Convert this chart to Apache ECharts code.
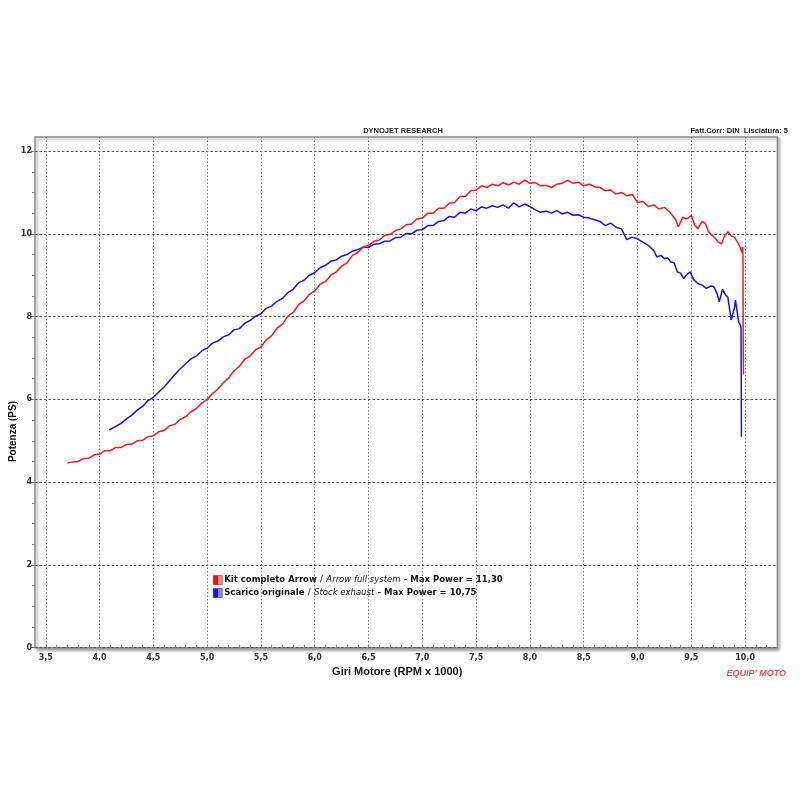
<!DOCTYPE html>
<html><head><meta charset="utf-8">
<script src="https://cdn.jsdelivr.net/npm/echarts@6/dist/echarts.min.js"></script>
<style>html,body{margin:0;padding:0;background:#fff}#c{width:800px;height:800px}</style>
</head><body><div id="c"></div>
<script>
// ---- data (RPM x 1000, PS) ----
const rpmTicks = [3.5,4.0,4.5,5.0,5.5,6.0,6.5,7.0,7.5,8.0,8.5,9.0,9.5,10.0];
const psTicks = [0,2,4,6,8,10,12];
const seriesNames = ['Kit completo Arrow', 'Scarico originale'];
const seriesNamesEn = ['Arrow full system', 'Stock exhaust'];
const headerTitle = 'DYNOJET RESEARCH';
const headerRight = 'Fatt.Corr: DIN  Lisciatura: 5';
const xTitle = 'Giri Motore (RPM x 1000)';
const yTitle = 'Potenza (PS)';

const kitArrow = [
[3.70,4.46],[3.75,4.49],[3.80,4.50],[3.85,4.57],[3.90,4.58],[3.95,4.66],[4.00,4.68],[4.05,4.76],[4.10,4.76],
[4.15,4.84],[4.20,4.84],[4.25,4.91],[4.30,4.92],[4.35,5.00],[4.40,5.01],[4.45,5.10],[4.50,5.12],[4.55,5.22],
[4.60,5.25],[4.65,5.36],[4.70,5.40],[4.75,5.52],[4.80,5.58],[4.85,5.70],[4.90,5.78],[4.95,5.91],[5.00,6.00],
[5.05,6.14],[5.10,6.25],[5.15,6.40],[5.20,6.52],[5.25,6.69],[5.30,6.80],[5.35,6.97],[5.40,7.05],[5.45,7.20],
[5.50,7.27],[5.55,7.44],[5.60,7.54],[5.65,7.72],[5.70,7.82],[5.75,8.01],[5.80,8.10],[5.85,8.29],[5.90,8.38],
[5.95,8.54],[6.00,8.62],[6.05,8.78],[6.10,8.85],[6.15,9.00],[6.20,9.08],[6.25,9.22],[6.30,9.30],[6.35,9.48],
[6.40,9.55],[6.45,9.68],[6.50,9.72],[6.55,9.82],[6.60,9.85],[6.65,9.96],[6.70,9.99],[6.75,10.08],[6.80,10.12],
[6.85,10.22],[6.90,10.24],[6.95,10.36],[7.00,10.38],[7.05,10.50],[7.10,10.50],[7.15,10.62],[7.20,10.62],
[7.25,10.74],[7.30,10.76],[7.35,10.90],[7.40,10.90],[7.45,11.04],[7.50,11.06],[7.55,11.16],[7.60,11.12],
[7.65,11.20],[7.70,11.16],[7.75,11.24],[7.80,11.18],[7.85,11.25],[7.90,11.20],[7.95,11.30],[8.00,11.22],
[8.05,11.24],[8.10,11.16],[8.15,11.17],[8.20,11.12],[8.25,11.20],[8.30,11.22],[8.35,11.30],[8.40,11.22],
[8.45,11.25],[8.50,11.16],[8.55,11.20],[8.60,11.14],[8.65,11.12],[8.70,11.04],[8.75,11.06],[8.80,10.96],
[8.85,11.00],[8.90,10.92],[8.95,10.95],[9.00,10.76],[9.05,10.78],[9.10,10.66],[9.15,10.70],[9.20,10.60],
[9.25,10.64],[9.30,10.52],[9.35,10.36],[9.38,10.17],[9.42,10.40],[9.46,10.36],[9.50,10.45],[9.53,10.22],
[9.56,10.12],[9.60,10.30],[9.63,10.25],[9.66,10.05],[9.69,9.97],[9.72,9.90],[9.75,9.80],[9.78,9.76],
[9.81,9.95],[9.84,10.05],[9.87,9.95],[9.90,9.92],[9.93,9.80],[9.95,9.70],[9.96,9.62],[9.97,9.55],
[9.975,9.68],[9.98,9.50],[9.982,7.50],[9.985,6.60]
];

const stockExhaust = [
[4.09,5.26],[4.15,5.35],[4.20,5.42],[4.25,5.53],[4.30,5.62],[4.35,5.74],[4.40,5.83],[4.45,5.97],[4.50,6.05],
[4.55,6.18],[4.60,6.30],[4.65,6.45],[4.70,6.60],[4.75,6.74],[4.80,6.86],[4.85,6.98],[4.90,7.05],[4.95,7.17],
[5.00,7.24],[5.05,7.36],[5.10,7.41],[5.15,7.51],[5.20,7.56],[5.25,7.68],[5.30,7.71],[5.35,7.84],[5.40,7.91],
[5.45,8.01],[5.50,8.07],[5.55,8.20],[5.60,8.26],[5.65,8.37],[5.70,8.44],[5.75,8.58],[5.80,8.66],[5.85,8.82],
[5.90,8.88],[5.95,9.00],[6.00,9.06],[6.05,9.18],[6.10,9.24],[6.15,9.34],[6.20,9.37],[6.25,9.46],[6.30,9.50],
[6.35,9.58],[6.40,9.62],[6.45,9.68],[6.50,9.67],[6.55,9.75],[6.60,9.76],[6.65,9.82],[6.70,9.83],[6.75,9.91],
[6.80,9.92],[6.85,10.01],[6.90,10.00],[6.95,10.09],[7.00,10.10],[7.05,10.20],[7.10,10.20],[7.15,10.30],
[7.20,10.32],[7.25,10.42],[7.30,10.40],[7.35,10.52],[7.40,10.50],[7.45,10.60],[7.50,10.56],[7.55,10.65],
[7.60,10.62],[7.65,10.68],[7.70,10.64],[7.75,10.70],[7.80,10.62],[7.85,10.75],[7.90,10.65],[7.95,10.72],
[8.00,10.66],[8.05,10.58],[8.10,10.52],[8.15,10.55],[8.20,10.50],[8.25,10.56],[8.30,10.48],[8.35,10.52],
[8.40,10.45],[8.45,10.46],[8.50,10.40],[8.55,10.38],[8.60,10.34],[8.65,10.30],[8.70,10.20],[8.75,10.26],
[8.80,10.16],[8.85,10.12],[8.90,9.86],[8.95,9.92],[9.00,9.88],[9.05,9.80],[9.10,9.72],[9.15,9.60],
[9.18,9.44],[9.22,9.48],[9.25,9.40],[9.28,9.42],[9.31,9.32],[9.34,9.30],[9.37,9.08],[9.40,9.05],
[9.43,8.92],[9.46,9.02],[9.49,9.08],[9.52,8.90],[9.56,8.80],[9.60,8.76],[9.64,8.68],[9.68,8.74],
[9.71,8.72],[9.74,8.55],[9.76,8.36],[9.79,8.66],[9.82,8.52],[9.84,8.46],[9.87,7.92],[9.90,8.20],
[9.91,8.40],[9.94,7.87],[9.955,7.80],[9.962,7.72],[9.966,5.10]
];

// minor tick positions
const rpmMinorTicks = [];
for (let v = 35; v <= 102; v++) rpmMinorTicks.push(v / 10);
const psMinorTicks = [];
for (let v = 1; v <= 24; v++) psMinorTicks.push(v / 2);

const comma = v => Number(v).toFixed(2).replace('.', ',');
const maxKit = Math.max(...kitArrow.map(p => p[1]));
const maxStock = Math.max(...stockExhaust.map(p => p[1]));

const chart = echarts.init(document.getElementById('c'), null, {renderer: 'canvas'});
const labelFont = 'DejaVu Sans';
const redCol = '#ee1c24';
const blueCol = '#1616d8';

chart.setOption({
  backgroundColor: '#ffffff',
  animation: false,
  title: [
    {text: headerTitle, left: 398, top: 122, textAlign: 'center',
     textStyle: {fontFamily: 'Liberation Sans', fontSize: 7.5, fontWeight: 'bold', color: '#222'}},
    {text: headerRight, right: 7, top: 122,
     textStyle: {fontFamily: 'Liberation Sans', fontSize: 7.5, fontWeight: 'bold', color: '#222'}}
  ],
  grid: {left: 35, right: 22.6, top: 137, bottom: 152.3, show: true,
         backgroundColor: '#fff', borderColor: '#8a8a8a', borderWidth: 1.5,
         shadowColor: 'rgba(0,0,0,0.35)', shadowBlur: 3, shadowOffsetX: 2, shadowOffsetY: 2},
  legend: {
    left: 208, top: 569, orient: 'vertical', itemGap: 1, itemWidth: 9, itemHeight: 9,
    icon: 'rect', selectedMode: false,
    data: [
      {name: seriesNames[0], itemStyle: {color: new echarts.graphic.LinearGradient(0,0,1,0,[{offset:0,color:'#e0141c'},{offset:0.5,color:'#e0141c'},{offset:0.5,color:'#f38a8a'},{offset:1,color:'#f38a8a'}]), borderColor: '#7a1010', borderWidth: 0.5}},
      {name: seriesNames[1], itemStyle: {color: new echarts.graphic.LinearGradient(0,0,1,0,[{offset:0,color:'#1818d0'},{offset:0.5,color:'#1818d0'},{offset:0.5,color:'#8a8af0'},{offset:1,color:'#8a8af0'}]), borderColor: '#10107a', borderWidth: 0.5}}
    ],
    formatter: name => {
      const i = seriesNames.indexOf(name);
      const mx = i === 0 ? maxKit : maxStock;
      return '{b|' + name + '} {n|/} {i|' + seriesNamesEn[i] + '} {b|- Max Power = ' + comma(mx) + '}';
    },
    textStyle: {
      padding: [0,0,0,-3],
      rich: {
        b: {fontFamily: labelFont, fontSize: 8.5, fontWeight: 'bold', color: '#111', lineHeight: 10},
        n: {fontFamily: labelFont, fontSize: 8.5, color: '#111', lineHeight: 10},
        i: {fontFamily: labelFont, fontSize: 8.5, fontStyle: 'italic', color: '#111', lineHeight: 10}
      }
    }
  },
  xAxis: [
    {type: 'value', min: 3.4, max: 10.3, position: 'bottom',
     axisLine: {show: false},
     axisTick: {show: false, customValues: rpmTicks},
     axisLabel: {customValues: rpmTicks, formatter: v => Number(v).toFixed(1).replace('.', ','),
                 fontFamily: labelFont, fontSize: 8, fontWeight: 'bold', color: '#333', margin: 6},
     splitLine: {show: true, lineStyle: {color: '#777', type: [1.5, 2], width: 1}},
     name: xTitle, nameLocation: 'middle', nameGap: 19,
     nameTextStyle: {fontFamily: 'Liberation Sans Narrow, Liberation Sans', fontSize: 11, fontWeight: 'bold', color: '#111', padding: [0, 18, 0, 0]}},
    {type: 'value', min: 3.4, max: 10.3, position: 'bottom',
     axisLine: {show: false}, axisLabel: {show: false}, splitLine: {show: false},
     axisTick: {show: true, inside: true, length: 3, customValues: rpmMinorTicks, lineStyle: {color: '#888', width: 1}}}
  ],
  yAxis: [
    {type: 'value', min: 0, max: 12.34, interval: 2, position: 'left',
     axisLine: {show: false},
     axisTick: {show: true, length: 4, customValues: psTicks, lineStyle: {color: '#666'}},
     axisLabel: {customValues: psTicks, fontFamily: labelFont, fontSize: 8, fontWeight: 'bold', color: '#333', margin: 3},
     splitLine: {show: true, lineStyle: {color: '#555', type: [2.5, 2], width: 1}}},
    {type: 'value', min: 0, max: 12.34, interval: 2, position: 'left',
     axisLine: {show: false}, axisLabel: {show: false}, splitLine: {show: false},
     axisTick: {show: true, length: 3, customValues: psMinorTicks, lineStyle: {color: '#888'}}}
  ],
  graphic: [
    {type: 'text', left: 8, top: 401, rotation: Math.PI / 2, origin: [0, 0],
     style: {text: yTitle, fontFamily: 'Liberation Sans', fontSize: 10, fontWeight: 'bold', fill: '#111',
             textAlign: 'center', textVerticalAlign: 'middle'}},
    {type: 'text', right: 14, top: 669,
     style: {text: "EQUIP' MOTO", fontFamily: 'Liberation Sans', fontSize: 9, fontWeight: 'bold', fontStyle: 'italic', fill: '#e05555'}}
  ],
  series: [
    {name: seriesNames[1], type: 'line', data: stockExhaust, showSymbol: false, xAxisIndex: 0, yAxisIndex: 0,
     lineStyle: {color: blueCol, width: 1.5}, itemStyle: {color: blueCol}},
    {name: seriesNames[0], type: 'line', data: kitArrow, showSymbol: false, xAxisIndex: 0, yAxisIndex: 0,
     lineStyle: {color: redCol, width: 1.5}, itemStyle: {color: redCol}}
  ]
});
</script>
</body></html>
